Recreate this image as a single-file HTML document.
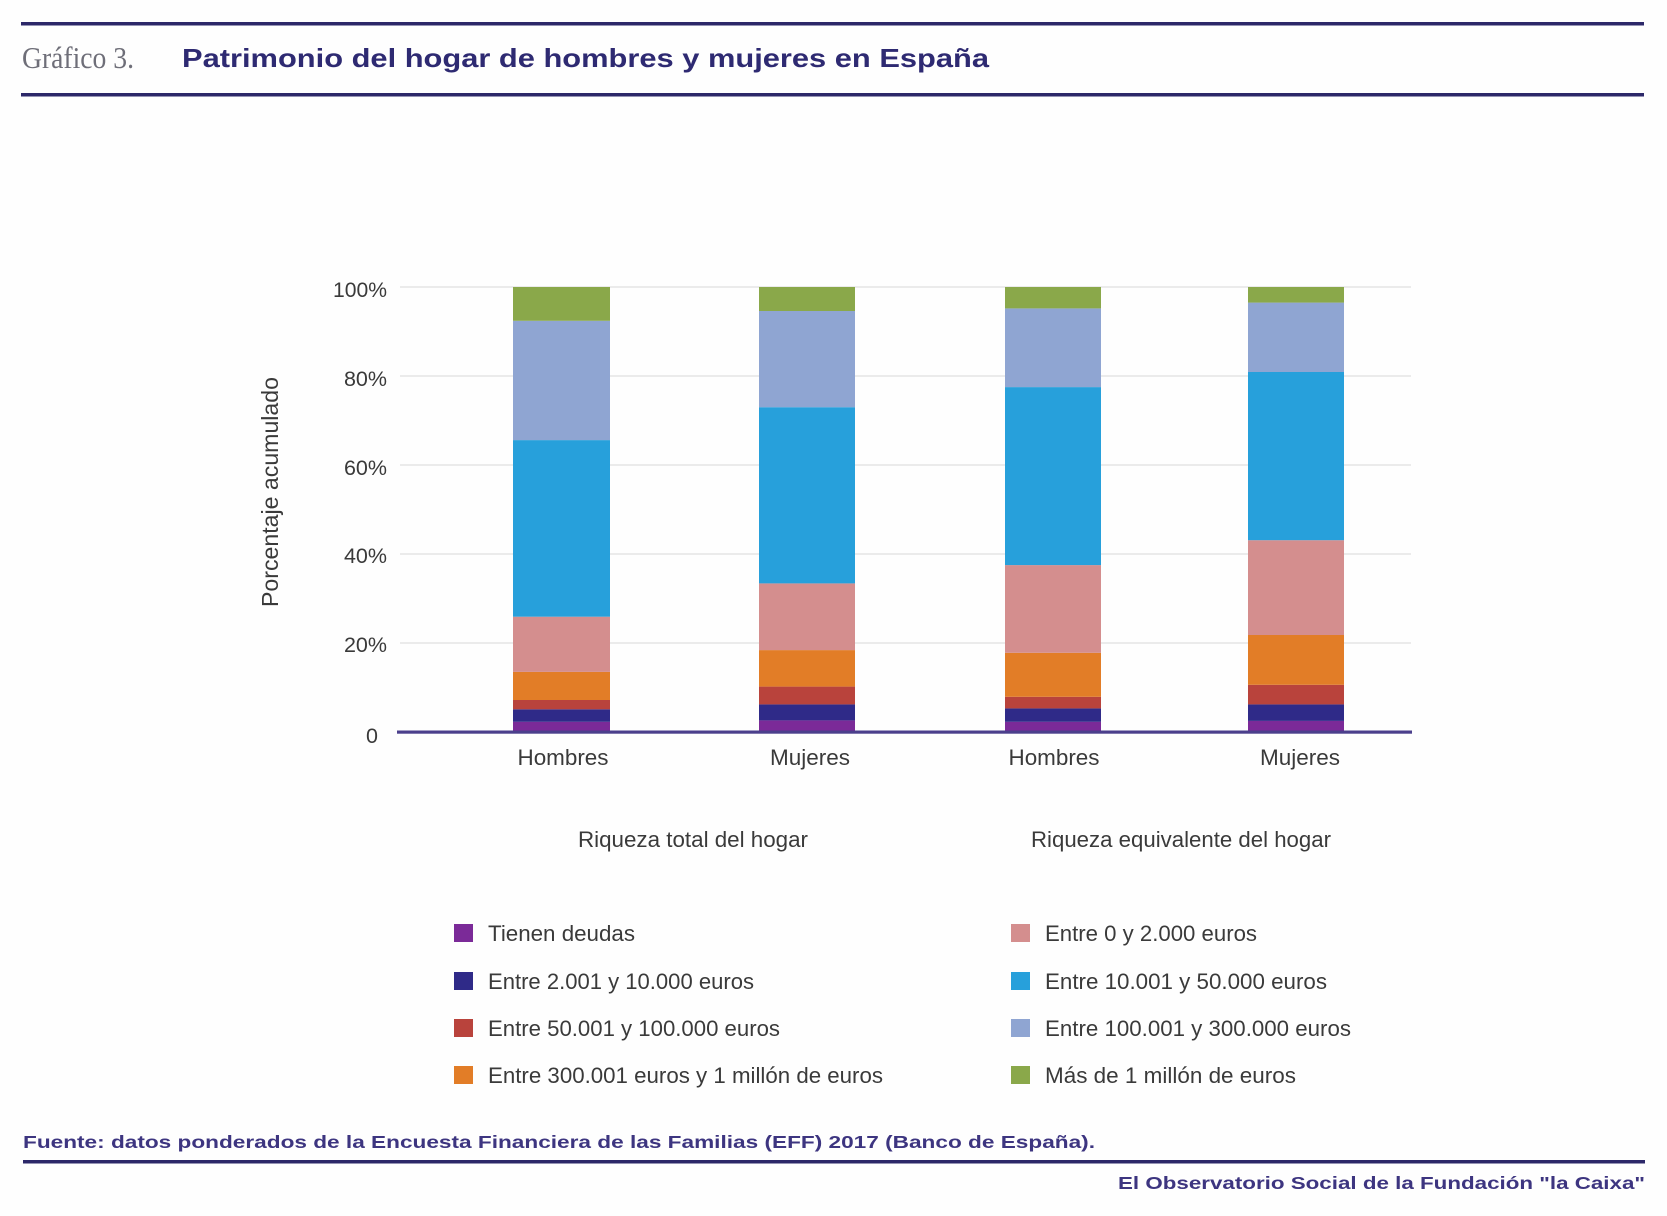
<!DOCTYPE html>
<html><head><meta charset="utf-8"><style>
html,body{margin:0;padding:0;background:#fefefe;}
svg{display:block;}
</style></head><body>
<svg width="1667" height="1216" viewBox="0 0 1667 1216" xmlns="http://www.w3.org/2000/svg" font-family="'Liberation Sans', Arial, sans-serif">
<rect width="1667" height="1216" fill="#fefefe"/>
<!-- header -->
<rect x="21" y="22" width="1623" height="3.5" fill="#2c2869"/>
<text x="22" y="68" font-family="'Liberation Serif', serif" font-size="31" fill="#6e6e78" textLength="112" lengthAdjust="spacingAndGlyphs">Gráfico 3.</text>
<text x="182" y="67" font-size="26" font-weight="bold" fill="#2e2a72" textLength="807" lengthAdjust="spacingAndGlyphs">Patrimonio del hogar de hombres y mujeres en España</text>
<rect x="21" y="93" width="1623" height="3.5" fill="#2c2869"/>

<!-- gridlines -->
<g stroke="#ebebeb" stroke-width="2">
<line x1="400" y1="287" x2="1411" y2="287"/>
<line x1="400" y1="376" x2="1411" y2="376"/>
<line x1="400" y1="465" x2="1411" y2="465"/>
<line x1="400" y1="554" x2="1411" y2="554"/>
<line x1="400" y1="643" x2="1411" y2="643"/>
</g>

<!-- tick labels -->
<g font-size="21.5" fill="#3a3a3a" text-anchor="end">
<text x="387" y="297" textLength="54" lengthAdjust="spacingAndGlyphs">100%</text>
<text x="387" y="386">80%</text>
<text x="387" y="475">60%</text>
<text x="387" y="563">40%</text>
<text x="387" y="652">20%</text>
<text x="378" y="743">0</text>
</g>
<text transform="translate(278,492) rotate(-90)" text-anchor="middle" font-size="23" fill="#3a3a3a" textLength="230" lengthAdjust="spacingAndGlyphs">Porcentaje acumulado</text>

<!-- bars -->
<g>
<rect x="513" y="721.8" width="97" height="10.2" fill="#7b2a98"/>
<rect x="513" y="709.3" width="97" height="12.5" fill="#2f2a88"/>
<rect x="513" y="700.0" width="97" height="9.3" fill="#b9433c"/>
<rect x="513" y="671.9" width="97" height="28.1" fill="#e27d27"/>
<rect x="513" y="616.7" width="97" height="55.2" fill="#d48e8e"/>
<rect x="513" y="440.1" width="97" height="176.6" fill="#27a0db"/>
<rect x="513" y="320.8" width="97" height="119.3" fill="#8fa5d2"/>
<rect x="513" y="287" width="97" height="33.8" fill="#8aa84a"/>
</g>
<g>
<rect x="759" y="720.4" width="96" height="11.6" fill="#7b2a98"/>
<rect x="759" y="704.4" width="96" height="16.0" fill="#2f2a88"/>
<rect x="759" y="686.6" width="96" height="17.8" fill="#b9433c"/>
<rect x="759" y="650.1" width="96" height="36.5" fill="#e27d27"/>
<rect x="759" y="583.4" width="96" height="66.7" fill="#d48e8e"/>
<rect x="759" y="407.2" width="96" height="176.2" fill="#27a0db"/>
<rect x="759" y="311.0" width="96" height="96.2" fill="#8fa5d2"/>
<rect x="759" y="287" width="96" height="24.0" fill="#8aa84a"/>
</g>
<g>
<rect x="1005" y="721.8" width="96" height="10.2" fill="#7b2a98"/>
<rect x="1005" y="708.4" width="96" height="13.4" fill="#2f2a88"/>
<rect x="1005" y="696.8" width="96" height="11.6" fill="#b9433c"/>
<rect x="1005" y="652.8" width="96" height="44.0" fill="#e27d27"/>
<rect x="1005" y="565.1" width="96" height="87.7" fill="#d48e8e"/>
<rect x="1005" y="387.1" width="96" height="178.0" fill="#27a0db"/>
<rect x="1005" y="308.4" width="96" height="78.7" fill="#8fa5d2"/>
<rect x="1005" y="287" width="96" height="21.4" fill="#8aa84a"/>
</g>
<g>
<rect x="1248" y="720.9" width="96" height="11.1" fill="#7b2a98"/>
<rect x="1248" y="704.4" width="96" height="16.5" fill="#2f2a88"/>
<rect x="1248" y="684.8" width="96" height="19.6" fill="#b9433c"/>
<rect x="1248" y="635.0" width="96" height="49.8" fill="#e27d27"/>
<rect x="1248" y="540.2" width="96" height="94.8" fill="#d48e8e"/>
<rect x="1248" y="372.0" width="96" height="168.2" fill="#27a0db"/>
<rect x="1248" y="302.6" width="96" height="69.4" fill="#8fa5d2"/>
<rect x="1248" y="287" width="96" height="15.6" fill="#8aa84a"/>
</g>

<!-- zero axis -->
<rect x="397" y="730.5" width="1015" height="3.2" fill="#4b3f8c"/>

<!-- category labels -->
<g font-size="22" fill="#3a3a3a" text-anchor="middle">
<text x="563" y="765" textLength="91" lengthAdjust="spacingAndGlyphs">Hombres</text>
<text x="810" y="765" textLength="80" lengthAdjust="spacingAndGlyphs">Mujeres</text>
<text x="1054" y="765" textLength="91" lengthAdjust="spacingAndGlyphs">Hombres</text>
<text x="1300" y="765" textLength="80" lengthAdjust="spacingAndGlyphs">Mujeres</text>
<text x="693" y="847" textLength="230" lengthAdjust="spacingAndGlyphs">Riqueza total del hogar</text>
<text x="1181" y="847" textLength="300" lengthAdjust="spacingAndGlyphs">Riqueza equivalente del hogar</text>
</g>

<!-- legend -->
<g>
<rect x="454" y="924" width="19" height="18" fill="#7b2a98"/>
<rect x="454" y="972" width="19" height="18" fill="#2f2a88"/>
<rect x="454" y="1019" width="19" height="18" fill="#b9433c"/>
<rect x="454" y="1066" width="19" height="18" fill="#e27d27"/>
<rect x="1011" y="924" width="19" height="18" fill="#d48e8e"/>
<rect x="1011" y="972" width="19" height="18" fill="#27a0db"/>
<rect x="1011" y="1019" width="19" height="18" fill="#8fa5d2"/>
<rect x="1011" y="1066" width="19" height="18" fill="#8aa84a"/>
</g>
<g font-size="22" fill="#3a3a3a">
<text x="488" y="941" textLength="147" lengthAdjust="spacingAndGlyphs">Tienen deudas</text>
<text x="488" y="989" textLength="266" lengthAdjust="spacingAndGlyphs">Entre 2.001 y 10.000 euros</text>
<text x="488" y="1036" textLength="292" lengthAdjust="spacingAndGlyphs">Entre 50.001 y 100.000 euros</text>
<text x="488" y="1083" textLength="395" lengthAdjust="spacingAndGlyphs">Entre 300.001 euros y 1 millón de euros</text>
<text x="1045" y="941" textLength="212" lengthAdjust="spacingAndGlyphs">Entre 0 y 2.000 euros</text>
<text x="1045" y="989" textLength="282" lengthAdjust="spacingAndGlyphs">Entre 10.001 y 50.000 euros</text>
<text x="1045" y="1036" textLength="306" lengthAdjust="spacingAndGlyphs">Entre 100.001 y 300.000 euros</text>
<text x="1045" y="1083" textLength="251" lengthAdjust="spacingAndGlyphs">Más de 1 millón de euros</text>
</g>

<!-- footer -->
<text x="23" y="1148" font-size="17.5" font-weight="bold" fill="#3d3580" textLength="1072" lengthAdjust="spacingAndGlyphs">Fuente:  datos ponderados de la Encuesta Financiera de las Familias (EFF) 2017 (Banco de España).</text>
<rect x="23" y="1160" width="1622" height="3.5" fill="#2c2869"/>
<text x="1645" y="1189" font-size="17.5" font-weight="bold" fill="#3d3580" text-anchor="end" textLength="527" lengthAdjust="spacingAndGlyphs">El Observatorio Social de la Fundación "la Caixa"</text>
</svg>
</body></html>
